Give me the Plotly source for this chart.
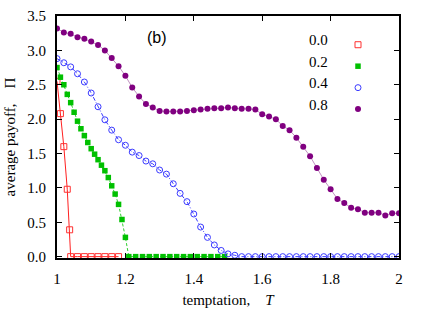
import plotly.graph_objects as go

# ---- data ----
T_00 = [1.00, 1.01, 1.02, 1.03, 1.037, 1.04, 1.06, 1.08, 1.10, 1.12, 1.14, 1.16, 1.18]
P_00 = [2.55, 2.08, 1.60, 0.98, 0.39, 0.0, 0.0, 0.0, 0.0, 0.0, 0.0, 0.0, 0.0]

T_02 = [1.00, 1.01, 1.02, 1.03, 1.04, 1.05, 1.06, 1.07, 1.08, 1.09, 1.10,
        1.11, 1.12, 1.13, 1.14, 1.15, 1.16, 1.17, 1.18, 1.19, 1.20, 1.21,
        1.23, 1.25, 1.27, 1.29, 1.31, 1.33, 1.35, 1.37, 1.39, 1.41, 1.43,
        1.45, 1.47, 1.49]
P_02 = [2.75, 2.61, 2.50, 2.36, 2.24, 2.10, 1.97, 1.86, 1.76, 1.66, 1.57,
        1.49, 1.41, 1.33, 1.25, 1.15, 1.03, 0.91, 0.76, 0.54, 0.28, 0.0,
        0.0, 0.0, 0.0, 0.0, 0.0, 0.0, 0.0, 0.0, 0.0, 0.0, 0.0,
        0.0, 0.0, 0.0]

T_04 = [1.00, 1.02, 1.04, 1.06, 1.08, 1.10, 1.12, 1.14, 1.16, 1.18, 1.20,
        1.22, 1.24, 1.26, 1.28, 1.30, 1.32, 1.34, 1.36, 1.38, 1.40, 1.42,
        1.44, 1.46, 1.48, 1.50, 1.52, 1.54, 1.56, 1.58, 1.60, 1.62, 1.64,
        1.66, 1.68, 1.70, 1.72, 1.74, 1.76, 1.78, 1.80, 1.82, 1.84, 1.86,
        1.88, 1.90, 1.92, 1.94, 1.96, 1.98, 2.00]
P_04 = [2.88, 2.82, 2.76, 2.66, 2.54, 2.38, 2.18, 1.99, 1.84, 1.70, 1.62,
        1.52, 1.47, 1.39, 1.35, 1.26, 1.20, 1.06, 0.92, 0.80, 0.62, 0.43,
        0.28, 0.17, 0.09, 0.04, 0.02, 0.0, 0.0, 0.0, 0.0, 0.0, 0.0,
        0.0, 0.0, 0.0, 0.0, 0.0, 0.0, 0.0, 0.0, 0.0, 0.0, 0.0,
        0.0, 0.0, 0.0, 0.0, 0.0, 0.0, 0.0]

T_08 = list(T_04)
P_08 = [3.32, 3.26, 3.24, 3.19, 3.17, 3.13, 3.08, 3.00, 2.89, 2.77, 2.63,
        2.46, 2.33, 2.22, 2.17, 2.12, 2.11, 2.11, 2.11, 2.12, 2.13, 2.14,
        2.15, 2.16, 2.16, 2.17, 2.16, 2.15, 2.15, 2.14, 2.07, 2.04, 2.00,
        1.90, 1.84, 1.73, 1.60, 1.46, 1.29, 1.12, 0.98, 0.84, 0.78, 0.71,
        0.69, 0.64, 0.64, 0.64, 0.60, 0.63, 0.63]

labels = ["0.0", "0.2", "0.4", "0.8"]
x_ticks = [1, 1.2, 1.4, 1.6, 1.8, 2]
x_ticktext = ["1", "1.2", "1.4", "1.6", "1.8", "2"]
y_ticks = [0, 0.5, 1.0, 1.5, 2.0, 2.5, 3.0, 3.5]

SERIF = "Liberation Serif"
SANS = "Liberation Sans"

series = [
    (T_08, P_08, labels[3],
     dict(color="rgba(150,70,150,0.6)", width=1),
     dict(symbol="circle", size=6, color="#800080"), 4),
    (T_00, P_00, labels[0],
     dict(color="#ff2020", width=1),
     dict(symbol="square-open", size=6, color="#ff3030", line=dict(width=1)), 1),
    (T_02, P_02, labels[1],
     dict(color="#30d030", width=1, dash="3px,2px"),
     dict(symbol="square", size=5.5, color="#00c000"), 2),
    (T_04, P_04, labels[2],
     dict(color="#3a3aff", width=1, dash="4px,2px,1px,2px"),
     dict(symbol="circle-open", size=6, color="#3a3aff", line=dict(width=1)), 3),
]

fig = go.Figure()
for xs, ys, lab, ln, mk, rank in series:
    fig.add_trace(go.Scatter(x=xs, y=ys, mode="lines", line=ln,
                             showlegend=False, hoverinfo="skip", name=lab))
    fig.add_trace(go.Scatter(x=xs, y=ys, mode="markers", marker=mk,
                             name=" ", legendrank=rank, showlegend=True))

axis_common = dict(
    showline=True, linecolor="black", linewidth=2, mirror="ticks",
    ticks="inside", ticklen=5, tickwidth=1, tickcolor="black",
    showgrid=False, zeroline=False, automargin=False,
    tickfont=dict(family=SERIF, size=15, color="black"),
)

fig.update_layout(
    width=436, height=309,
    margin=dict(l=57, r=37, t=16, b=51, autoexpand=False),
    plot_bgcolor="white", paper_bgcolor="white",
    xaxis=dict(range=[1, 2], tickvals=x_ticks, ticktext=x_ticktext,
               ticklabelstandoff=6,
               title=dict(text="temptation,\u00a0\u00a0\u00a0 <i>T</i>",
                          font=dict(family=SERIF, size=15, color="black"),
                          standoff=8),
               **axis_common),
    yaxis=dict(range=[-0.02, 3.5], tickvals=y_ticks, tickformat=".1f",
               ticklabelstandoff=6,
               title=dict(text="average payoff,\u00a0\u00a0\u00a0 Π",
                          font=dict(family=SERIF, size=15, color="black"),
                          standoff=8),
               **axis_common),
    legend=dict(x=(338 - 57) / 342, y=(258 - 29) / 242, xanchor="left", yanchor="top",
                bgcolor="rgba(0,0,0,0)", borderwidth=0,
                font=dict(family=SERIF, size=14.2, color="black"),
                tracegroupgap=0, itemwidth=30),
    showlegend=True,
)

legend_y_px = [40, 62, 83, 105]
for lab, ypx in zip(labels, legend_y_px):
    fig.add_annotation(
        x=(330 - 57) / 342, y=(258 - ypx) / 242, xref="paper", yref="paper",
        text=lab, showarrow=False, xanchor="right", yanchor="middle",
        font=dict(family=SERIF, size=15, color="black"),
    )

fig.add_annotation(
    x=(157 - 57) / 342, y=(258 - 37) / 242, xref="paper", yref="paper",
    text="(b)", showarrow=False, xanchor="center", yanchor="middle",
    font=dict(family=SANS, size=16, color="black"),
)

fig.write_html("out.html",
               config={"displayModeBar": False},
               post_script="document.body.style.margin='0px';document.body.style.overflow='hidden';")
